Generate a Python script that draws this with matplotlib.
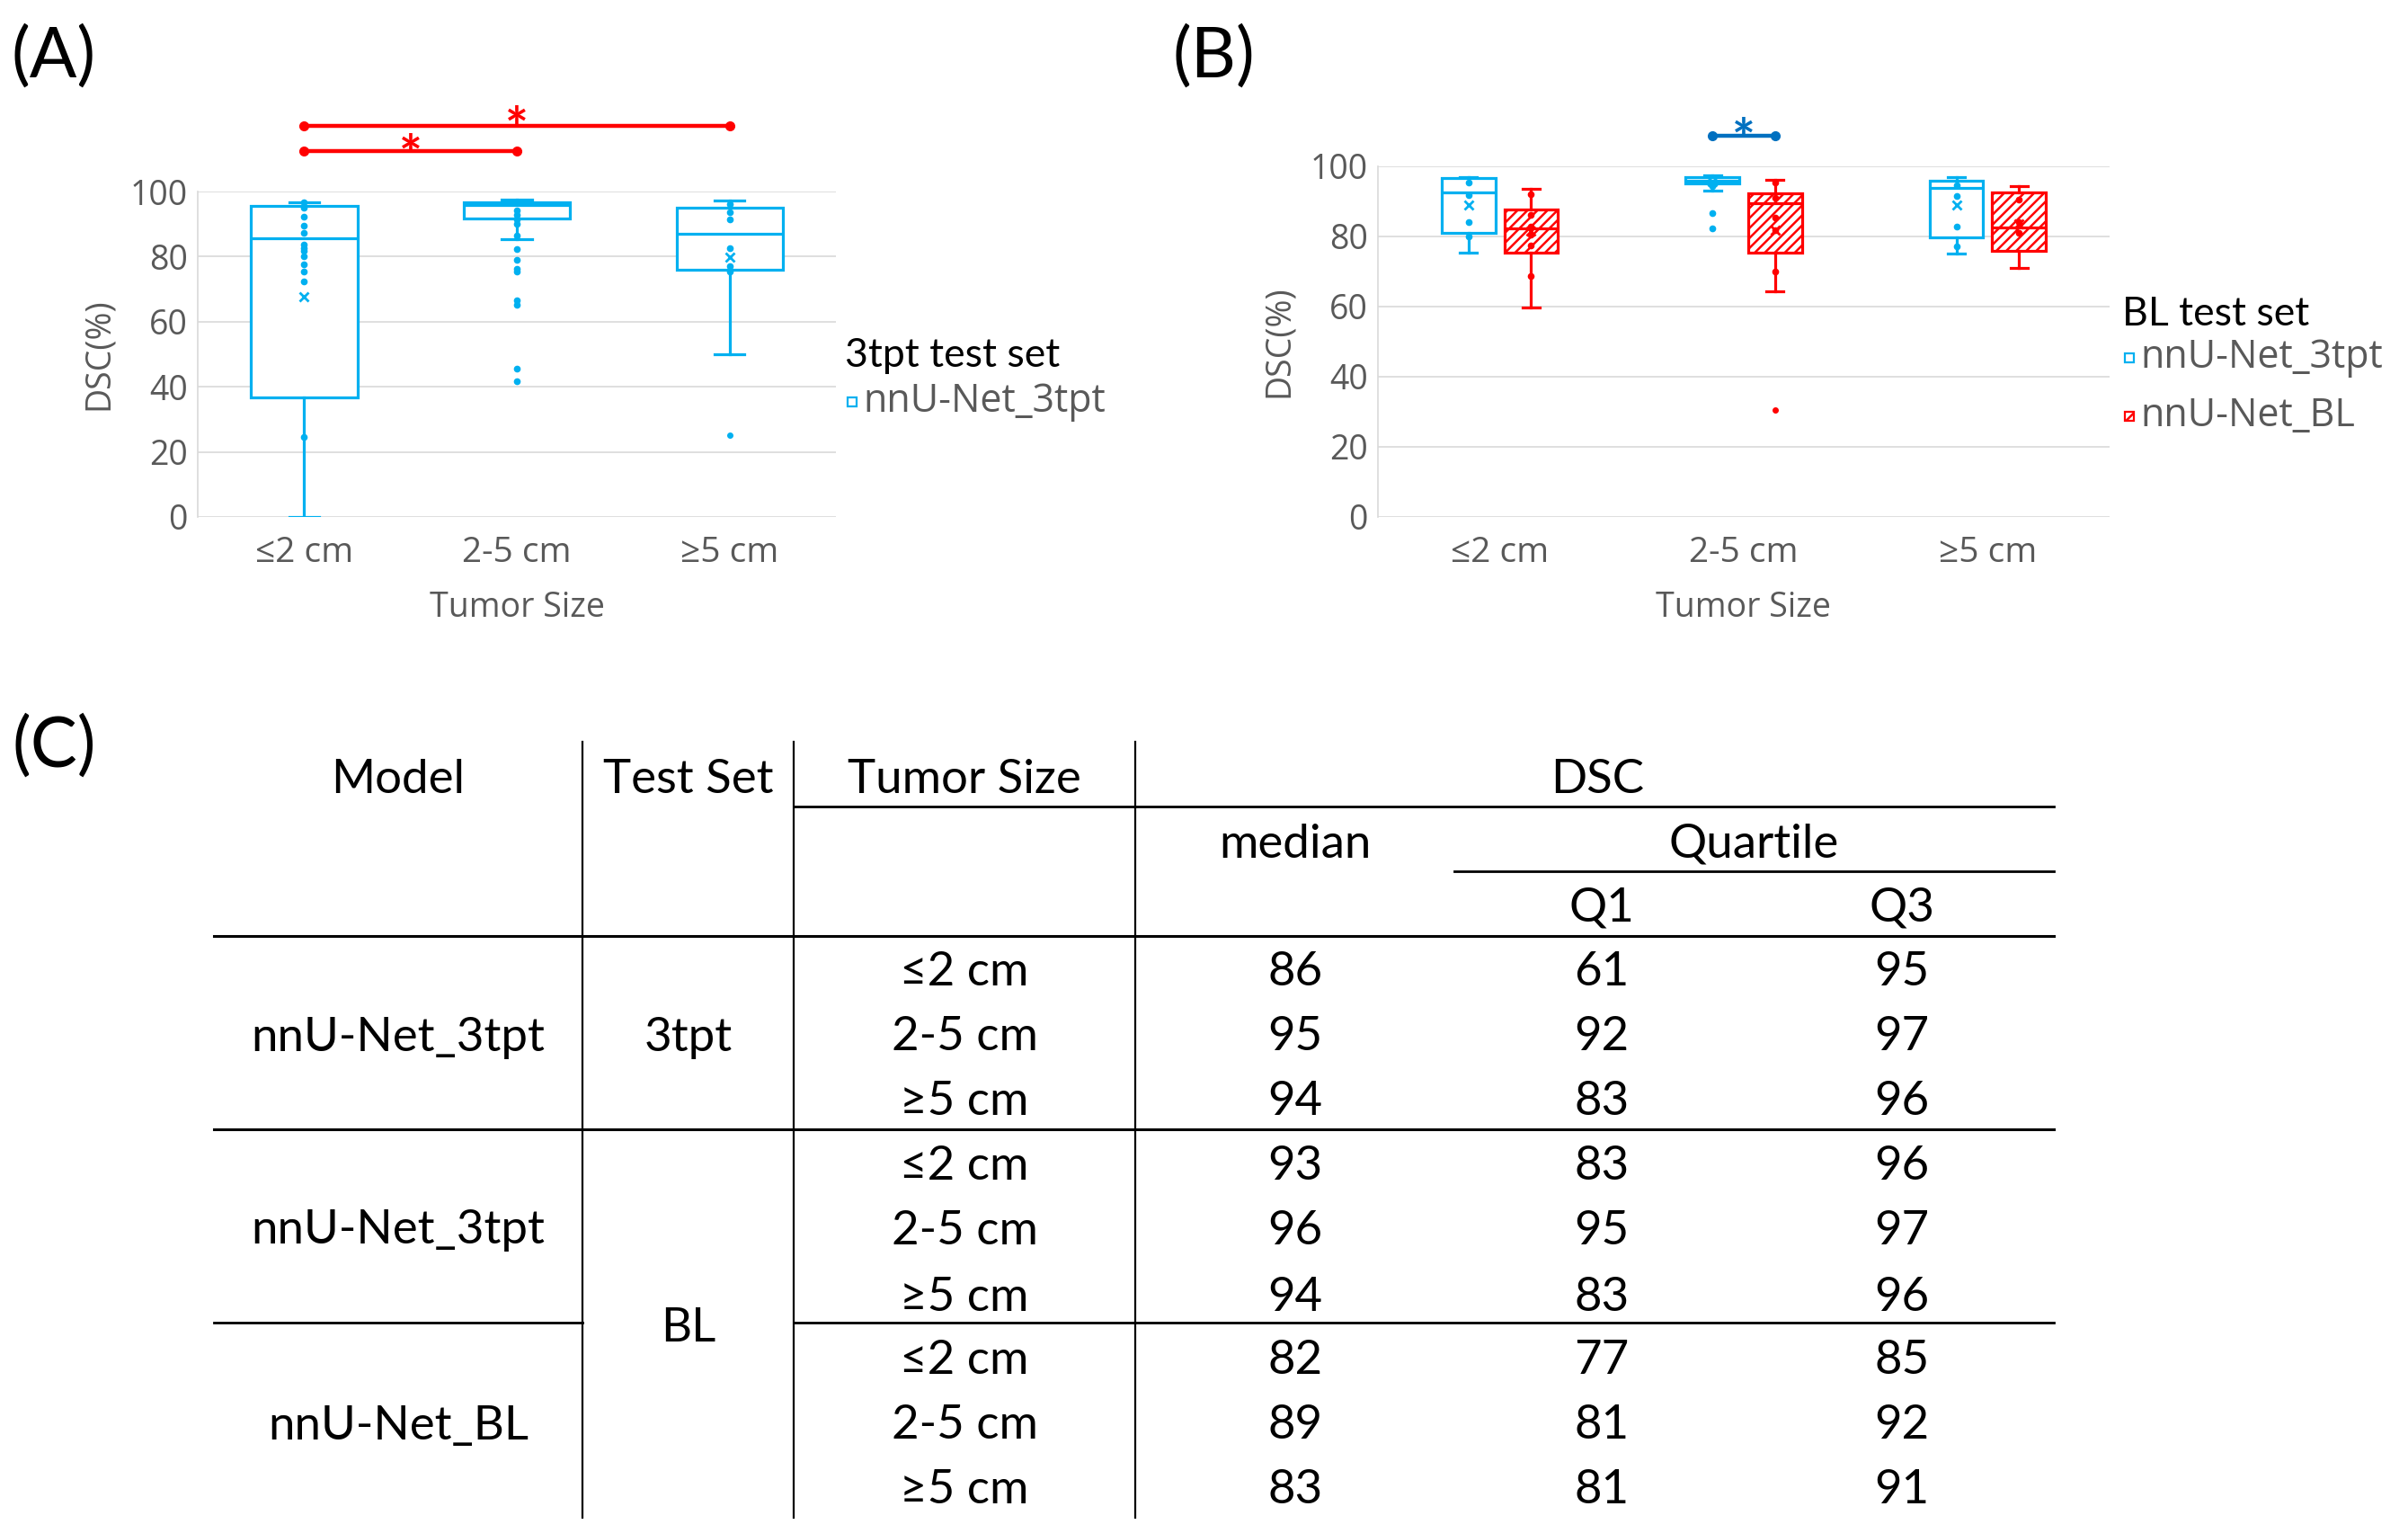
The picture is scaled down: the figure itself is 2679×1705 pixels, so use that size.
import matplotlib
matplotlib.use("Agg")
import matplotlib.pyplot as plt
from matplotlib.lines import Line2D
from matplotlib.patches import Rectangle
import numpy as np

# ---- data ----
sizes = ['≤2 cm', '2-5 cm', '≥5 cm']

# panel A : 3tpt test set, nnU-Net_3tpt
a_whislo = [0.0, 85.3, 49.9]
a_q1 = [36.7, 91.6, 75.9]
a_med = [85.7, 95.8, 87.0]
a_q3 = [95.6, 96.7, 95.1]
a_whishi = [96.7, 97.6, 97.1]
a_mean = [67.6, None, 79.7]
a_points = [[96.7, 95.1, 92.2, 89.6, 87.3, 83.8, 82.6, 81.7, 80.0, 77.6, 75.3, 72.5, 24.7],
            [96.7, 94.2, 92.8, 91.4, 90.0, 86.6, 82.3, 79.0, 76.2, 75.3, 66.5, 65.2, 45.7, 41.6],
            [96.0, 93.7, 91.4, 82.6, 77.0, 75.3]]
a_fliers = [[], [], [25.1]]

# panel B : BL test set, nnU-Net_3tpt (blue) and nnU-Net_BL (red)
b1_whislo = [75.4, 93.2, 75.2]
b1_q1 = [81.0, 95.0, 79.7]
b1_med = [92.6, 96.0, 93.8]
b1_q3 = [96.6, 96.8, 95.8]
b1_whishi = [96.9, 97.5, 97.0]
b1_mean = [89.1, 95.6, 89.1]
b1_points = [[95.4, 91.7, 84.2, 80.0], [94.3, 86.6, 82.2], [94.7, 91.5, 82.8, 77.2]]

b2_whislo = [59.8, 64.4, 71.0]
b2_q1 = [75.3, 75.3, 75.8]
b2_med = [82.2, 89.5, 82.6]
b2_q3 = [87.7, 92.3, 92.6]
b2_whishi = [93.7, 96.2, 94.4]
b2_mean = [81.5, 81.9, 83.6]
b2_points = [[92.0, 86.2, 82.8, 80.6, 77.4, 68.6], [95.3, 90.9, 85.3, 81.9, 69.9], [90.4, 84.0, 81.0]]
b2_fliers = [[], [30.4], []]

# table (C)
tab_models = ['nnU-Net_3tpt', 'nnU-Net_3tpt', 'nnU-Net_BL']
tab_testsets = ['3tpt', 'BL']
tab_sizes = sizes * 3
tab_median = [86, 95, 94, 93, 96, 94, 82, 89, 83]
tab_q1 = [61, 92, 83, 83, 95, 83, 77, 81, 81]
tab_q3 = [95, 97, 96, 96, 97, 96, 85, 92, 91]

CYAN = '#00B0F0'
RED = '#FF0000'
DBLUE = '#0070C0'
GRAY = '#595959'
TICKF = ['Open Sans', 'DejaVu Sans']
TXTF = ['Lato', 'DejaVu Sans']

W, H = 2679, 1705
plt.rcParams['hatch.linewidth'] = 1.8
fig = plt.figure(figsize=(W / 100, H / 100), dpi=100)


def fx(x):
    return x / W


def fy(y):
    return 1 - y / H


def make_stats(lo, q1, med, q3, hi, mean, fl):
    st = []
    for i in range(len(med)):
        d = dict(whislo=lo[i], q1=q1[i], med=med[i], q3=q3[i], whishi=hi[i], fliers=fl[i])
        d['mean'] = mean[i] if mean[i] is not None else np.nan
        st.append(d)
    return st


def style_axis(ax, xl_y, yl_x):
    ax.set_ylim(0, 100)
    ax.set_xlim(-0.5, 2.5)
    ax.set_yticks(range(0, 101, 20))
    ax.set_xticks(range(3))
    ax.set_xticklabels(sizes)
    ax.grid(axis='y', color='#D9D9D9', lw=1.2)
    ax.set_axisbelow(True)
    for s in ['top', 'right', 'bottom']:
        ax.spines[s].set_visible(False)
    ax.spines['left'].set_color('#D9D9D9')
    ax.spines['left'].set_linewidth(1.2)
    ax.tick_params(axis='both', length=0, labelcolor=GRAY, labelsize=27)
    ax.tick_params(axis='y', pad=8)
    ax.tick_params(axis='x', pad=15, labelsize=28)
    for t in ax.get_xticklabels() + ax.get_yticklabels():
        t.set_family(TICKF)
    ax.set_xlabel('Tumor Size', fontsize=27, color=GRAY, family=TICKF, va='center')
    ax.set_ylabel('DSC(%)', fontsize=27, color=GRAY, family=TICKF, va='center')
    ax.xaxis.set_label_coords(0.5, xl_y)
    ax.yaxis.set_label_coords(yl_x, 0.5)


def draw_boxes(ax, stats, pos, width, capw, color, points, hatch=None):
    lw = 2.3
    ax.bxp(stats, positions=pos, widths=width, capwidths=capw, showmeans=True,
           patch_artist=True, manage_ticks=False,
           boxprops=dict(facecolor='white', edgecolor=color, linewidth=lw, hatch=hatch),
           whiskerprops=dict(color=color, linewidth=lw),
           capprops=dict(color=color, linewidth=lw),
           medianprops=dict(color=color, linewidth=lw),
           meanprops=dict(marker='x', markeredgecolor=color, markersize=7, markeredgewidth=2),
           flierprops=dict(marker='o', markerfacecolor=color, markeredgecolor=color, markersize=4))
    for p, vals in zip(pos, points):
        ax.plot([p] * len(vals), vals, 'o', color=color, markersize=4.5, zorder=4, clip_on=False)


def sig_bar(ax, x0, x1, y, ystar, color):
    ax.plot([x0, x1], [y, y], color=color, lw=3.2, marker='o', markersize=7, clip_on=False)
    ax.text((x0 + x1) / 2, ystar, '*', color=color, fontsize=44, fontweight='bold',
            family=TXTF, ha='center', va='center', clip_on=False)


def legend_block(title, tx, ty, labels, colors, hatches, ys):
    fig.text(fx(tx), fy(ty), title, fontsize=32, family=TXTF, ha='left', va='center')
    for lab, c, h, y in zip(labels, colors, hatches, ys):
        fig.add_artist(Rectangle((fx(tx + 3), fy(y + 5)), fx(10), 10 / H, facecolor='white',
                                 edgecolor=c, lw=1.6, hatch=h, transform=fig.transFigure))
        fig.text(fx(tx + 20), fy(y), lab, fontsize=31, family=TICKF, color=GRAY,
                 ha='left', va='center')


# ---- panel A ----
axA = fig.add_axes([fx(220), fy(575), fx(930 - 220), (575 - 213) / H])
statsA = make_stats(a_whislo, a_q1, a_med, a_q3, a_whishi, a_mean, a_fliers)
draw_boxes(axA, statsA, [0, 1, 2], 0.5, 0.14, CYAN, a_points)
style_axis(axA, -0.279, -0.155)
sig_bar(axA, 0, 2, 120.2, 118.4, RED)
sig_bar(axA, 0, 1, 112.4, 110.0, RED)
legend_block('3tpt test set', 940, 396, ['nnU-Net_3tpt'], [CYAN], [None], [447])

# ---- panel B ----
axB = fig.add_axes([fx(1533), fy(575), fx(2347 - 1533), (575 - 185) / H])
off = 0.128
statsB1 = make_stats(b1_whislo, b1_q1, b1_med, b1_q3, b1_whishi, b1_mean, [[], [], []])
statsB2 = make_stats(b2_whislo, b2_q1, b2_med, b2_q3, b2_whishi, b2_mean, b2_fliers)
draw_boxes(axB, statsB1, [i - off for i in range(3)], 0.22, 0.07, CYAN, b1_points)
draw_boxes(axB, statsB2, [i + off for i in range(3)], 0.22, 0.07, RED, b2_points, hatch='///')
style_axis(axB, -0.259, -0.135)
sig_bar(axB, 1 - off, 1 + off, 108.7, 106.6, DBLUE)
legend_block('BL test set', 2361, 350, ['nnU-Net_3tpt', 'nnU-Net_BL'], [CYAN, RED],
             [None, '///'], [398, 463])

# panel letters
for lab, x, y in [('(A)', 60, 64), ('(B)', 1350, 64), ('(C)', 60, 831)]:
    fig.text(fx(x), fy(y), lab, fontsize=56, family=TXTF, ha='center', va='center')

# ---- table (C) ----
TS = 38


def ttext(x, y, s):
    fig.text(fx(x), fy(y + 4), s, fontsize=TS, family=TXTF, ha='center', va='center')


def hline(x0, x1, y, lw=2.0):
    fig.add_artist(Line2D([fx(x0), fx(x1)], [fy(y), fy(y)], color='black', lw=lw))


def vline(x, y0, y1, lw=1.6):
    fig.add_artist(Line2D([fx(x), fx(x)], [fy(y0), fy(y1)], color='black', lw=lw))


ttext(443, 863, 'Model')
ttext(766, 863, 'Test Set')
ttext(1073, 863, 'Tumor Size')
ttext(1777, 863, 'DSC')
ttext(1441, 935, 'median')
ttext(1951, 935, 'Quartile')
ttext(1782, 1006, 'Q1')
ttext(2116, 1006, 'Q3')

row_y = [1078, 1150, 1222, 1294, 1365, 1439, 1510, 1582, 1654]
for i, y in enumerate(row_y):
    ttext(1073, y, tab_sizes[i])
    ttext(1441, y, str(tab_median[i]))
    ttext(1782, y, str(tab_q1[i]))
    ttext(2116, y, str(tab_q3[i]))
for m, y in zip(tab_models, [1150, 1365, 1582]):
    ttext(443, y, m)
ttext(766, 1150, tab_testsets[0])
ttext(766, 1473, tab_testsets[1])

vline(648, 825, 1688)
vline(883, 825, 1688)
vline(1263, 825, 1688)
hline(883, 2285, 897)
hline(1618, 2285, 969)
hline(238, 2285, 1041, lw=2.2)
hline(238, 2285, 1256, lw=2.2)
hline(238, 648, 1471)
hline(883, 2285, 1471)

fig.savefig('out.png', dpi=100)
